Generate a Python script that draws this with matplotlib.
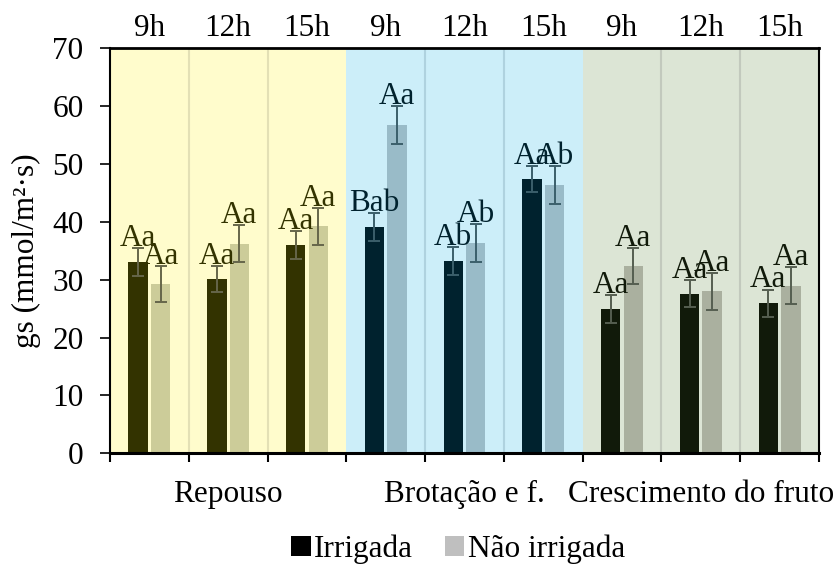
import matplotlib
matplotlib.use("Agg")
import matplotlib.pyplot as plt
from matplotlib.patches import Patch
import numpy as np

plt.rcParams['font.family'] = ['Liberation Serif', 'DejaVu Serif']

phases = ["Repouso", "Brotação e f.", "Crescimento do fruto"]
hours = ["9h", "12h", "15h"]

irrigada = [33.0, 30.1, 36.0, 39.1, 33.3, 47.4, 24.9, 27.6, 25.9]
irrigada_err = [2.4, 2.3, 2.4, 2.4, 2.4, 2.3, 2.4, 2.4, 2.4]
nao_irrigada = [29.3, 36.2, 39.2, 56.7, 36.4, 46.4, 32.3, 28.0, 29.0]
nao_irrigada_err = [3.1, 3.2, 3.2, 3.3, 3.3, 3.3, 3.1, 3.2, 3.2]

labels_irr = ["Aa", "Aa", "Aa", "Bab", "Ab", "Aa", "Aa", "Aa", "Aa"]
labels_nao = ["Aa", "Aa", "Aa", "Aa", "Ab", "Ab", "Aa", "Aa", "Aa"]

# styles per phase
bg_colors = ["#FFFCCC", "#CCEEF9", "#DCE5D5"]
sep_colors = ["#E3E0B5", "#AFD2DF", "#C2C9BD"]
irr_colors = ["#333300", "#00222E", "#111A0A"]
nao_colors = ["#CCCC99", "#99BBC8", "#AAB09F"]
err_colors = ["#66664A", "#3B5F6B", "#555E50"]

FS = 22.5

fig = plt.figure(figsize=(8.39, 5.67), dpi=100)
W, H = 839, 567
ax = fig.add_axes([110 / W, 1 - 453.3 / H, (819 - 110) / W, (453.3 - 48.3) / H])

n = len(irrigada)
x = np.arange(n) + 0.5
bw = 0.245
off = 0.143

for p in range(3):
    ax.axvspan(3 * p, 3 * p + 3, color=bg_colors[p], zorder=0, lw=0)
    for k in (1, 2):
        ax.axvline(3 * p + k, color=sep_colors[p], lw=1.5, zorder=0.5)

for i in range(n):
    p = i // 3
    ax.bar(x[i] - off, irrigada[i], width=bw, color=irr_colors[p], zorder=2)
    ax.bar(x[i] + off, nao_irrigada[i], width=bw, color=nao_colors[p], zorder=2)
    ax.errorbar(x[i] - off, irrigada[i], yerr=irrigada_err[i], fmt='none',
                ecolor=err_colors[p], elinewidth=1.4, capsize=4.3, capthick=1.4, zorder=3)
    ax.errorbar(x[i] + off, nao_irrigada[i], yerr=nao_irrigada_err[i], fmt='none',
                ecolor=err_colors[p], elinewidth=1.4, capsize=4.3, capthick=1.4, zorder=3)
    ax.annotate(labels_irr[i], (x[i] - off, irrigada[i] + irrigada_err[i]),
                xytext=(0, 1.5), textcoords='offset points', ha='center', va='baseline',
                fontsize=FS, color=irr_colors[p], zorder=4)
    ax.annotate(labels_nao[i], (x[i] + off, nao_irrigada[i] + nao_irrigada_err[i]),
                xytext=(0, 1.5), textcoords='offset points', ha='center', va='baseline',
                fontsize=FS, color=irr_colors[p], zorder=4)

ax.set_xlim(0, n)
ax.set_ylim(0, 70)
ax.set_yticks(np.arange(0, 71, 10))
ax.tick_params(axis='y', direction='out', length=7, width=1.2, labelsize=FS, pad=12)
ax.set_xticks(np.arange(0, n + 1))
ax.set_xticklabels([])
ax.tick_params(axis='x', direction='out', length=6.5, width=1.5)
ax.set_ylabel("gs (mmol/m²·s)", fontsize=FS, labelpad=8)

for s in ax.spines.values():
    s.set_color('black')
    s.set_linewidth(1.5)
ax.spines['bottom'].set_linewidth(2.2)
ax.spines['top'].set_linewidth(2)

# top hour labels
top = ax.secondary_xaxis('top')
top.set_xticks(x)
top.set_xticklabels(hours * 3, fontsize=FS)
top.tick_params(length=0, pad=4)
top.spines['top'].set_visible(False)

# phase labels
for p in range(3):
    ax.text(3 * p + 1.5, -0.065, phases[p], transform=ax.get_xaxis_transform(),
            ha='center', va='top', fontsize=FS)

handles = [Patch(facecolor='#000000', edgecolor='none', label='Irrigada'),
           Patch(facecolor='#BFBFBF', edgecolor='none', label='Não irrigada')]
fig.legend(handles=handles, loc='center', bbox_to_anchor=(458 / W, 1 - 549 / H),
           ncol=2, frameon=False, fontsize=FS, handlelength=0.62, handleheight=0.62,
           handletextpad=0.12, columnspacing=1.0, borderaxespad=0, borderpad=0)

fig.savefig("out.png", dpi=100)
